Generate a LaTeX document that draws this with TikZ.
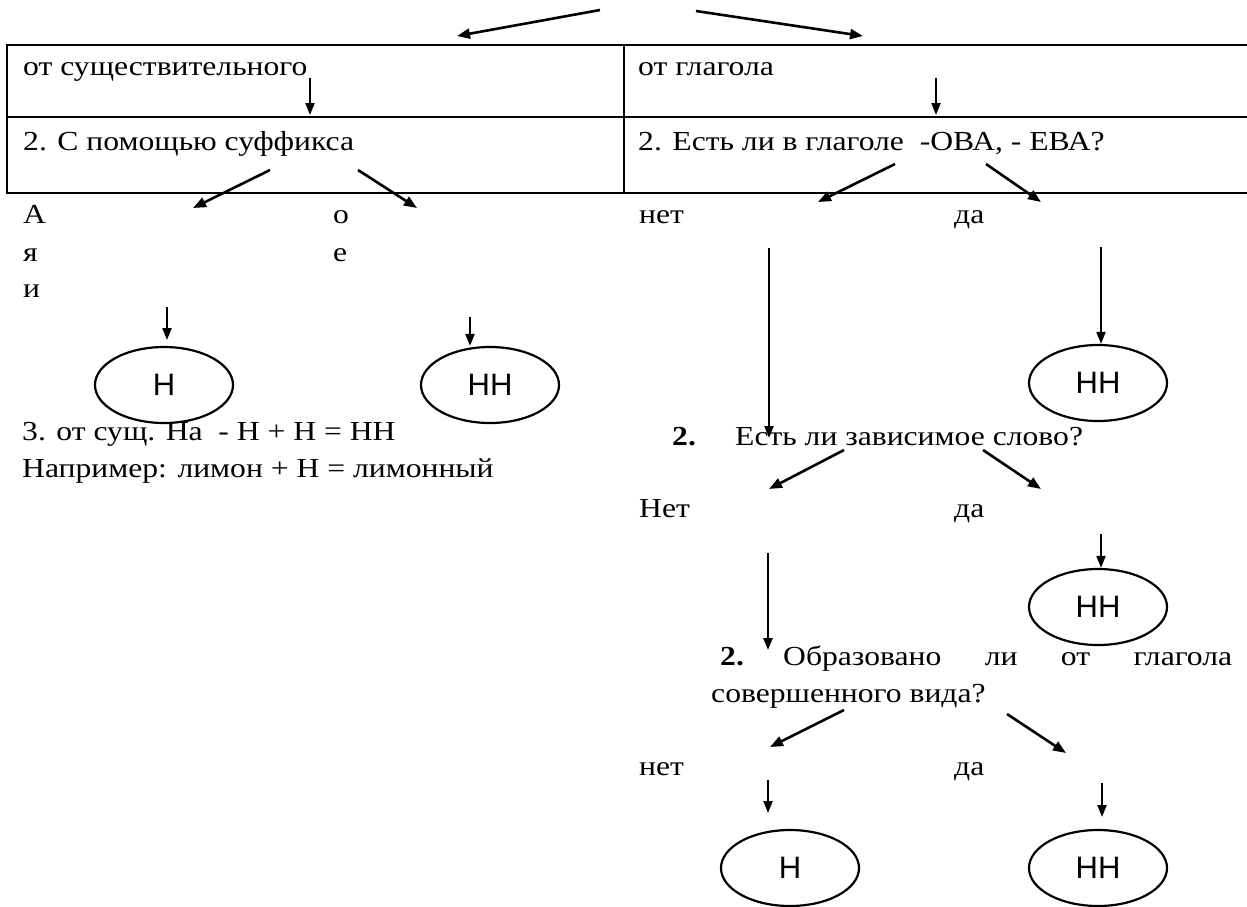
\documentclass[tikz,border=0pt]{standalone}
\usepackage{fontspec}
\setmainfont{Liberation Serif}[FakeStretch=1.15]
\newfontfamily\ellfont{Liberation Sans}
\usetikzlibrary{arrows.meta,shapes.geometric}
\begin{document}
\begin{tikzpicture}[x=1pt,y=-1pt,
  txt/.style={anchor=base west, inner sep=0pt, font=\fontsize{27.5}{36}\selectfont},
  arr/.style={line width=2.6pt, -{Triangle[length=13pt,width=10pt]}},
  thinarr/.style={line width=2.2pt, -{Triangle[length=12pt,width=9pt]}},
  oval/.style={draw, line width=2.2pt, ellipse, minimum width=138pt, minimum height=76pt, inner sep=0pt, font=\ellfont\fontsize{31}{36}\selectfont},
  tab/.style={line width=2.8pt}]
\useasboundingbox (0,0) rectangle (1247,906);
\fill[white] (0,0) rectangle (1247,906);

% table
\draw[tab] (1247,45) -- (7,45) -- (7,193) -- (1247,193);
\draw[tab] (7,117) -- (1247,117);
\draw[tab] (624,45) -- (624,193);

% top arrows
\coordinate (tl0) at (600,10); \coordinate (tl1) at (457,36);
\coordinate (tr0) at (696,11); \coordinate (tr1) at (863,36);
\draw[arr] (tl0) -- (tl1);
\draw[arr] (tr0) -- (tr1);

% row texts
\node[txt] (noun) at (23,75) {от существительного};
\node[txt] (verb) at (638,75) {от глагола};
\node[txt] (suf) at (23,150) {2. С помощью суффикса};
\node[txt] (ova) at (638,150) {2. Есть ли в глаголе\ \ -ОВА, - ЕВА?};

\coordinate (na0) at (310,78); \coordinate (na1) at (310,115);
\coordinate (va0) at (936,78); \coordinate (va1) at (936,115);
\draw[thinarr] (na0) -- (na1);
\draw[thinarr] (va0) -- (va1);

% left branch
\coordinate (s0) at (270,170); \coordinate (s1) at (193,208);
\coordinate (s2) at (358,170); \coordinate (s3) at (417,208);
\draw[arr] (s0) -- (s1);
\draw[arr] (s2) -- (s3);

\node[txt] (la) at (23,223) {А};
\node[txt] (lya) at (23,261) {я};
\node[txt] (li) at (23,297) {и};
\node[txt] (lo) at (333,223) {о};
\node[txt] (le) at (333,261) {е};

\node[oval] (h1) at (164,385) {Н};
\node[oval] (hh1) at (490,385) {НН};
\coordinate (h1a) at (167,307); \coordinate (h1b) at (167,340);
\draw[thinarr] (h1a) -- (h1b);
\coordinate (hh1a) at (470,317);
\draw[thinarr] (hh1a) -- (hh1a |- hh1.north);

\node[txt] (rule3) at (22,440) {3. от сущ. На\ \ - Н + Н = НН};
\node[txt] (ex) at (22,477) {Например: лимон + Н = лимонный};

% right branch
\coordinate (o0) at (895,164); \coordinate (o1) at (818,202);
\coordinate (o2) at (986,164); \coordinate (o3) at (1041,202);
\draw[arr] (o0) -- (o1);
\draw[arr] (o2) -- (o3);
\node[txt] (net1) at (639,223) {нет};
\node[txt] (da1) at (954,223) {да};

\coordinate (n1a) at (769,248); \coordinate (n1b) at (769,438);
\draw[thinarr] (n1a) -- (n1b);
\node[oval] (hh2) at (1098,383) {НН};
\coordinate (d1a) at (1101,247);
\draw[thinarr] (d1a) -- (d1a |- hh2.north);

\node[txt] (q2n) at (672,445) {\textbf{2.}};
\node[txt] (q2) at (735,445) {Есть ли зависимое слово?};
\coordinate (p0) at (844,450); \coordinate (p1) at (769,489);
\coordinate (p2) at (983,450); \coordinate (p3) at (1041,489);
\draw[arr] (p0) -- (p1);
\draw[arr] (p2) -- (p3);
\node[txt] (net2) at (639,517) {Нет};
\node[txt] (da2) at (954,517) {да};

\node[oval] (hh3) at (1098,607) {НН};
\coordinate (d2a) at (1101,534);
\draw[thinarr] (d2a) -- (d2a |- hh3.north);
\coordinate (n2a) at (768,553); \coordinate (n2b) at (768,650);
\draw[thinarr] (n2a) -- (n2b);

\node[txt] (q3n) at (720,665) {\textbf{2.}};
\node[txt] (q3) at (783,665) {\makebox[449pt][s]{Образовано ли от глагола}};
\node[txt] (q3b) at (711,702) {совершенного вида?};
\coordinate (r0) at (844,710); \coordinate (r1) at (770,747);
\coordinate (r2) at (1007,714); \coordinate (r3) at (1066,753);
\draw[arr] (r0) -- (r1);
\draw[arr] (r2) -- (r3);
\node[txt] (net3) at (639,775) {нет};
\node[txt] (da3) at (954,775) {да};

\node[oval] (h4) at (790,868) {Н};
\node[oval] (hh4) at (1098,868) {НН};
\coordinate (n3a) at (768,780); \coordinate (n3b) at (768,813);
\draw[thinarr] (n3a) -- (n3b);
\coordinate (d3a) at (1102,783); \coordinate (d3b) at (1102,817);
\draw[thinarr] (d3a) -- (d3b);
\end{tikzpicture}
\end{document}
